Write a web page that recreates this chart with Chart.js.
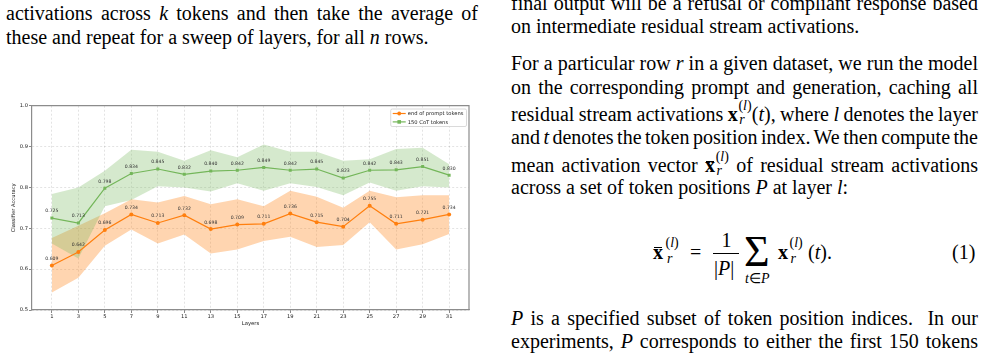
<!DOCTYPE html>
<html><head><meta charset="utf-8">
<script src="https://cdn.jsdelivr.net/npm/chart.js@4/dist/chart.umd.min.js"></script>
<style>
html,body{margin:0;padding:0;background:#fff;width:986px;height:355px;overflow:hidden;position:relative;}
.ln{position:absolute;font-family:"Liberation Serif","Times New Roman",serif;font-size:20px;line-height:0;color:#000;white-space:nowrap;}
.j{text-align:justify;text-align-last:justify;}
.ss{display:inline-block;position:relative;width:0.7em;height:0;}
.ss .sp{position:absolute;left:0.05em;top:-1.59em;font-size:0.7em;line-height:1;}
.ss .sb{position:absolute;left:0.1em;top:-0.55em;font-size:0.7em;line-height:1;}
.ov{position:relative;}
.ov::before{content:"";position:absolute;left:0.04em;right:0.04em;top:0.33em;border-top:1.3px solid #000;}
#wrap{position:absolute;left:0;top:95px;width:480px;height:240px;}
</style></head>
<body>
<div id="wrap"><canvas id="c" width="480" height="240"></canvas></div>
<div id="txt"></div>
<script>
// ---- chart data ----
const layers = [1,3,5,7,9,11,13,15,17,19,21,23,25,27,29,31];
const endPromptAcc  = [0.609,0.642,0.696,0.734,0.713,0.732,0.698,0.709,0.711,0.736,0.715,0.704,0.755,0.711,0.721,0.734];
const endPromptLow  = [0.543,0.579,0.657,0.697,0.663,0.685,0.638,0.648,0.669,0.679,0.654,0.659,0.715,0.648,0.661,0.686];
const endPromptHigh = [0.676,0.706,0.737,0.771,0.763,0.779,0.759,0.771,0.754,0.792,0.777,0.750,0.792,0.776,0.781,0.781];
const cotAcc  = [0.725,0.713,0.798,0.834,0.845,0.832,0.840,0.842,0.849,0.842,0.845,0.823,0.842,0.843,0.851,0.830];
const cotLow  = [0.663,0.626,0.754,0.769,0.803,0.800,0.790,0.810,0.792,0.810,0.801,0.781,0.812,0.792,0.803,0.800];
const cotHigh = [0.784,0.800,0.841,0.892,0.887,0.865,0.891,0.874,0.905,0.887,0.887,0.865,0.869,0.894,0.897,0.857];
const yTicks = [0.5,0.6,0.7,0.8,0.9,1.0];
const seriesLabels = ['end of prompt tokens','150 CoT tokens'];
const xTitle = 'Layers';
const yTitle = 'Classifier Accuracy';

// ---- page text ----
const FS = 20;
function put(html, x, baseline, width, justify, fs){
  fs = fs || FS;
  const d = document.createElement('div');
  d.className = 'ln' + (justify ? ' j' : '');
  d.style.left = x + 'px';
  d.style.top = (baseline - 0.3375*fs) + 'px';
  d.style.fontSize = fs + 'px';
  if (width) d.style.width = width + 'px';
  d.innerHTML = html;
  document.getElementById('txt').appendChild(d);
  if (justify && width) {
    const m = document.createElement('div');
    m.className = 'ln'; m.style.fontSize = fs + 'px'; m.style.visibility = 'hidden'; m.style.left = '0px'; m.style.top = '0px';
    const s = document.createElement('span'); s.innerHTML = html; m.appendChild(s);
    document.body.appendChild(m);
    const nat = s.getBoundingClientRect().width; m.remove();
    if (nat > width - 2) {
      const n = (html.replace(/<[^>]*>/g, '').match(/ /g) || []).length || 1;
      d.style.wordSpacing = (-(nat - width + 4) / n) + 'px';
    }
  }
  return d;
}
const xr = '<b>x</b><span class="ss"><span class="sp">(<i>l</i>)</span><span class="sb"><i>r</i></span></span>';
const xbar = '<span class="ov"><b>x</b></span><span class="ss"><span class="sp">(<i>l</i>)</span><span class="sb"><i>r</i></span></span>';
put('activations across <i>k</i> tokens and then take the average of', 6, 20, 472, true);
put('these and repeat for a sweep of layers, for all <i>n</i> rows.', 6, 43.3, 0, false);
put('final output will be a refusal or compliant response based', 511, 9.5, 467, true);
put('on intermediate residual stream activations.', 511, 33, 0, false);
put('For a particular row <i>r</i> in a given dataset, we run the model', 511, 70, 467, true);
put('on the corresponding prompt and generation, caching all', 511, 93.3, 467, true);
put('residual stream activations ' + xr + '(<i>t</i>), where <i>l</i> denotes the layer', 511, 120.7, 467, true);
put('and <i>t</i> denotes the token position index. We then compute the', 511, 143.3, 467, true);
put('mean activation vector ' + xbar + ' of residual stream activations', 511, 171.7, 467, true);
put('across a set of token positions <i>P</i> at layer <i>l</i>:', 511, 194, 0, false);
// equation (1)
put('<span class="ov"><b>x</b></span>', 653, 258.3);
put('(<i>l</i>)', 665.5, 248, 0, false, 14);
put('<i>r</i>', 667, 263.5, 0, false, 14);
put('=', 690, 258.3);
put('1', 721.5, 246.7);
put('|<i>P</i>|', 714, 274.5);
put('&Sigma;', 744, 267, 0, false, 44);
put('<i>t</i>&isin;<i>P</i>', 745, 283.5, 0, false, 14);
put('<b>x</b>', 778, 258.3);
put('(<i>l</i>)', 789.5, 248, 0, false, 14);
put('<i>r</i>', 790.5, 263.5, 0, false, 14);
put('(<i>t</i>).', 808, 258.3);
put('(1)', 952, 259);
const bar = document.createElement('div');
bar.style.cssText = 'position:absolute;left:712.5px;top:252.8px;width:26.5px;height:0;border-top:1px solid #000;';
document.body.appendChild(bar);
put('<i>P</i> is a specified subset of token position indices.&nbsp; In our', 511, 325, 467, true);
put('experiments, <i>P</i> corresponds to either the first 150 tokens', 511, 348, 467, true);

// ---- chart ----
const ORANGE = '#ff7f0e', GREEN = '#74b65a';
const pts = arr => arr.map((v,i) => ({x: layers[i], y: v}));
const font = (s) => ({family: '"DejaVu Sans", sans-serif', size: s});

const valueLabels = {
  id: 'valueLabels',
  afterDatasetsDraw(chart){
    const ctx = chart.ctx;
    ctx.save();
    ctx.font = '4.6px "DejaVu Sans", sans-serif';
    ctx.fillStyle = '#333';
    ctx.textAlign = 'center';
    ctx.textBaseline = 'middle';
    [4,5].forEach(di => {
      const meta = chart.getDatasetMeta(di);
      const ds = chart.data.datasets[di];
      meta.data.forEach((p,i) => ctx.fillText(ds.data[i].y.toFixed(3), p.x, p.y - 6.8));
    });
    ctx.restore();
  }
};
const frame = {
  id: 'frame',
  afterDraw(chart){
    const {ctx, chartArea: a} = chart;
    ctx.save();
    ctx.strokeStyle = '#8c8c8c'; ctx.lineWidth = 1.2;
    ctx.beginPath(); ctx.moveTo(a.left, a.top); ctx.lineTo(a.right, a.top); ctx.lineTo(a.right, a.bottom); ctx.stroke();
    // legend (inside, upper right)
    ctx.font = '5.2px "DejaVu Sans", sans-serif';
    const items = [{t: seriesLabels[0], c: ORANGE, m: 'circle'}, {t: seriesLabels[1], c: GREEN, m: 'rect'}];
    const tw = Math.max(...items.map(it => ctx.measureText(it.t).width));
    const w = 17 + tw + 3, h = 17.5;
    const x0 = a.right - 2.5 - w, y0 = a.top + 3.3;
    ctx.fillStyle = 'rgba(255,255,255,0.85)'; ctx.strokeStyle = '#d0d0d0'; ctx.lineWidth = 0.8;
    ctx.beginPath(); ctx.roundRect(x0, y0, w, h, 1.5); ctx.fill(); ctx.stroke();
    items.forEach((it, k) => {
      const yy = y0 + 4.5 + k * 8.4;
      ctx.strokeStyle = it.c; ctx.fillStyle = it.c; ctx.lineWidth = 1.2;
      ctx.beginPath(); ctx.moveTo(x0 + 2, yy); ctx.lineTo(x0 + 15, yy); ctx.stroke();
      if (it.m === 'circle') { ctx.beginPath(); ctx.arc(x0 + 8.5, yy, 1.9, 0, Math.PI*2); ctx.fill(); }
      else ctx.fillRect(x0 + 6.7, yy - 1.8, 3.6, 3.6);
      ctx.fillStyle = '#222'; ctx.textBaseline = 'middle'; ctx.textAlign = 'left';
      ctx.fillText(it.t, x0 + 17, yy + 0.3);
    });
    ctx.restore();
  }
};

new Chart(document.getElementById('c'), {
  type: 'line',
  data: {
    datasets: [
      {label: 'ep-low', data: pts(endPromptLow), borderWidth: 0, pointRadius: 0, fill: false, order: 10, borderColor: 'rgba(0,0,0,0)'},
      {label: 'ep-high', data: pts(endPromptHigh), borderWidth: 0, pointRadius: 0, fill: {target: 0}, backgroundColor: 'rgba(255,127,14,0.33)', order: 9, borderColor: 'rgba(0,0,0,0)'},
      {label: 'cot-low', data: pts(cotLow), borderWidth: 0, pointRadius: 0, fill: false, order: 8, borderColor: 'rgba(0,0,0,0)'},
      {label: 'cot-high', data: pts(cotHigh), borderWidth: 0, pointRadius: 0, fill: {target: 2}, backgroundColor: 'rgba(116,182,90,0.3)', order: 7, borderColor: 'rgba(0,0,0,0)'},
      {label: seriesLabels[0], data: pts(endPromptAcc), borderColor: ORANGE, backgroundColor: ORANGE, borderWidth: 1.2, pointStyle: 'circle', pointRadius: 2, pointBorderWidth: 0, fill: false, order: 2, tension: 0},
      {label: seriesLabels[1], data: pts(cotAcc), borderColor: GREEN, backgroundColor: GREEN, borderWidth: 1.2, pointStyle: 'rect', pointRadius: 2.1, pointBorderWidth: 0, fill: false, order: 1, tension: 0}
    ]
  },
  options: {
    responsive: false, animation: false, devicePixelRatio: 1,
    layout: {padding: {top: 10.7, right: 11, bottom: 0, left: 0}},
    plugins: {legend: {display: false}, tooltip: {enabled: false}},
    scales: {
      x: {
        type: 'linear', min: -0.5, max: 32.5,
        afterBuildTicks: s => { s.ticks = layers.map(v => ({value: v})); },
        afterFit: s => { s.height = 25; },
        ticks: {font: font(5.2), color: '#222', padding: 1, autoSkip: false, maxRotation: 0, callback: v => String(v)},
        grid: {color: 'rgba(0,0,0,0.16)', lineWidth: 0.7, tickLength: 3, tickColor: '#555', tickWidth: 0.7, tickBorderDash: []},
        border: {color: '#8c8c8c', width: 1.2, dash: [2, 2]},
        title: {display: true, text: xTitle, font: font(5.3), color: '#222', padding: {top: 0, bottom: 8}}
      },
      y: {
        min: 0.5, max: 1.0,
        afterBuildTicks: s => { s.ticks = yTicks.map(v => ({value: v})); },
        afterFit: s => { s.width = 32; },
        ticks: {font: font(5.2), color: '#222', padding: 1, callback: v => v.toFixed(1)},
        grid: {color: 'rgba(0,0,0,0.16)', lineWidth: 0.7, tickLength: 3, tickColor: '#555', tickWidth: 0.7, tickBorderDash: []},
        border: {color: '#8c8c8c', width: 1.2, dash: [2, 2]},
        title: {display: true, text: yTitle, font: font(5.2), color: '#222', padding: {top: 10.3, bottom: 0}}
      }
    }
  },
  plugins: [valueLabels, frame]
});
</script>
</body></html>
